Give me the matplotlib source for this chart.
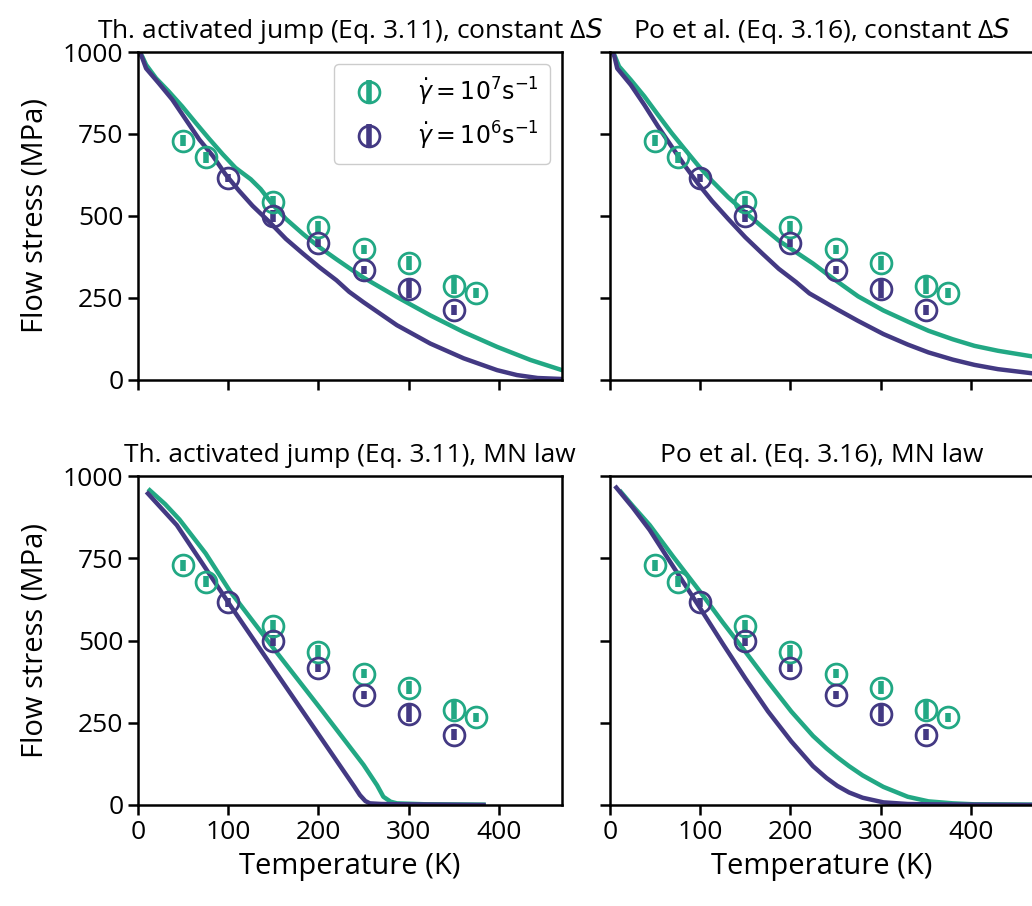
import numpy as np
from matplotlib import pyplot as plt

# measured flow stress (MPa) at the two strain rates
T_hi = [50, 75, 150, 200, 250, 300, 350, 375]
s_hi = [729, 679, 543, 465, 399, 357, 288, 266]
e_hi = [17, 17, 19, 20, 14, 21, 27, 15]

T_lo = [100, 150, 200, 250, 300, 350]
s_lo = [616, 500, 417, 335, 278, 214]
e_lo = [13, 17, 12, 13, 27, 16]

tl_T_hi = [2, 5, 9, 20, 34, 49, 64, 79, 94, 108, 125, 136, 149, 164, 183, 201,
           220, 238, 250, 287, 324, 361, 398, 435, 470]
tl_s_hi = [1000, 985, 961, 920, 880, 834, 784, 735, 688, 647, 612, 582, 536, 491,
           445, 405, 368, 334, 312, 253, 197, 146, 101, 61, 30]
tl_T_lo = [2, 5, 9, 23, 38, 53, 68, 83, 97, 112, 127, 146, 164, 183, 201, 220,
           234, 250, 287, 324, 361, 398, 420, 443, 470]
tl_s_lo = [1000, 980, 950, 905, 855, 794, 733, 683, 627, 577, 531, 481, 430, 385,
           344, 304, 269, 237, 167, 111, 66, 30, 15, 6, 3]

tr_T_hi = [3, 5, 10, 23, 38, 53, 68, 83, 98, 113, 131, 150, 169, 187, 206, 225,
           240, 252, 275, 303, 330, 353, 380, 404, 430, 472]
tr_s_hi = [1000, 990, 956, 915, 865, 809, 754, 703, 653, 607, 557, 511, 466, 425,
           390, 355, 324, 300, 255, 212, 178, 150, 124, 104, 89, 70]
tr_T_lo = [3, 5, 8, 23, 38, 53, 68, 83, 98, 113, 131, 150, 169, 187, 206, 221,
           252, 275, 303, 330, 353, 380, 404, 430, 472]
tr_s_lo = [1000, 985, 950, 900, 839, 774, 713, 653, 597, 546, 491, 435, 385, 339,
           299, 264, 215, 180, 140, 108, 84, 62, 46, 33, 19]

bl_T_hi = [13, 30, 46, 75, 102, 152, 202, 250, 265, 272, 280, 287, 320, 383]
bl_s_hi = [957, 915, 868, 765, 650, 470, 294, 122, 60, 25, 10, 5, 2, 1]
bl_T_lo = [11, 25, 43, 70, 102, 150, 198, 240, 246, 252, 257, 270, 298, 383]
bl_s_lo = [947, 905, 851, 740, 608, 415, 223, 55, 30, 12, 5, 3, 2, 0]

br_T_hi = [12, 25, 44, 70, 100, 125, 150, 175, 201, 225, 240, 252, 265, 280, 303,
           330, 353, 380, 404, 472]
br_s_hi = [952, 910, 851, 755, 648, 555, 466, 375, 284, 210, 172, 145, 118, 90, 55,
           25, 11, 5, 2, 1]
br_T_lo = [7, 25, 44, 70, 100, 125, 150, 175, 201, 225, 240, 252, 265, 280, 303,
           330, 353, 404, 472]
br_s_lo = [965, 905, 836, 725, 598, 490, 385, 285, 193, 118, 82, 58, 38, 22, 8,
           3, 2, 1, 0]

titles = ['Th. activated jump (Eq. 3.11), constant Δ$S$',
          'Po et al. (Eq. 3.16), constant Δ$S$',
          'Th. activated jump (Eq. 3.11), MN law',
          'Po et al. (Eq. 3.16), MN law']
curves = [(tl_T_hi, tl_s_hi, tl_T_lo, tl_s_lo),
          (tr_T_hi, tr_s_hi, tr_T_lo, tr_s_lo),
          (bl_T_hi, bl_s_hi, bl_T_lo, bl_s_lo),
          (br_T_hi, br_s_hi, br_T_lo, br_s_lo)]

GREEN = '#22a884'
PURPLE = '#433983'

plt.rcParams['font.family'] = ['Open Sans', 'DejaVu Sans']
plt.rcParams.update({'font.size': 19, 'axes.linewidth': 1.8,
                     'xtick.major.width': 1.8, 'ytick.major.width': 1.8,
                     'xtick.major.size': 7, 'ytick.major.size': 7})

fig = plt.figure(figsize=(10.32, 9.06), dpi=100)
boxes = [(0.1337, 0.5806, 0.4109, 0.3620),
         (0.5911, 0.5806, 0.4109, 0.3620),
         (0.1337, 0.1115, 0.4109, 0.3630),
         (0.5911, 0.1115, 0.4109, 0.3630)]

for i, box in enumerate(boxes):
    ax = fig.add_axes(box)
    Th, sh, Tl, sl = curves[i]
    ax.plot(Th, sh, color=GREEN, lw=3.2, solid_joinstyle='round')
    ax.plot(Tl, sl, color=PURPLE, lw=3.2, solid_joinstyle='round')
    h1 = ax.errorbar(T_hi, s_hi, yerr=e_hi, fmt='o', mfc='none', mec=GREEN,
                     ms=15, mew=2, ecolor=GREEN, elinewidth=4, capsize=0)
    h2 = ax.errorbar(T_lo, s_lo, yerr=e_lo, fmt='o', mfc='none', mec=PURPLE,
                     ms=15, mew=2, ecolor=PURPLE, elinewidth=4, capsize=0)
    ax.set_xlim(0, 470)
    ax.set_ylim(0, 1000)
    ax.set_xticks([0, 100, 200, 300, 400])
    ax.set_yticks([0, 250, 500, 750, 1000])
    ax.set_title(titles[i], fontsize=19, pad=10)
    if i < 2:
        ax.set_xticklabels([])
    else:
        ax.set_xlabel('Temperature (K)', fontsize=21, labelpad=5)
    if i % 2 == 1:
        ax.set_yticklabels([])
    else:
        ax.set_ylabel('Flow stress (MPa)', fontsize=21, labelpad=10)
    if i == 0:
        ax.legend([h1, h2], [r'$\dot{\gamma} = 10^7\mathrm{s}^{-1}$',
                             r'$\dot{\gamma} = 10^6\mathrm{s}^{-1}$'],
                  fontsize=17, loc='upper right', handletextpad=1.0,
                  edgecolor='#cccccc', framealpha=1, borderpad=0.5)

fig.savefig('out.png', dpi=100)
